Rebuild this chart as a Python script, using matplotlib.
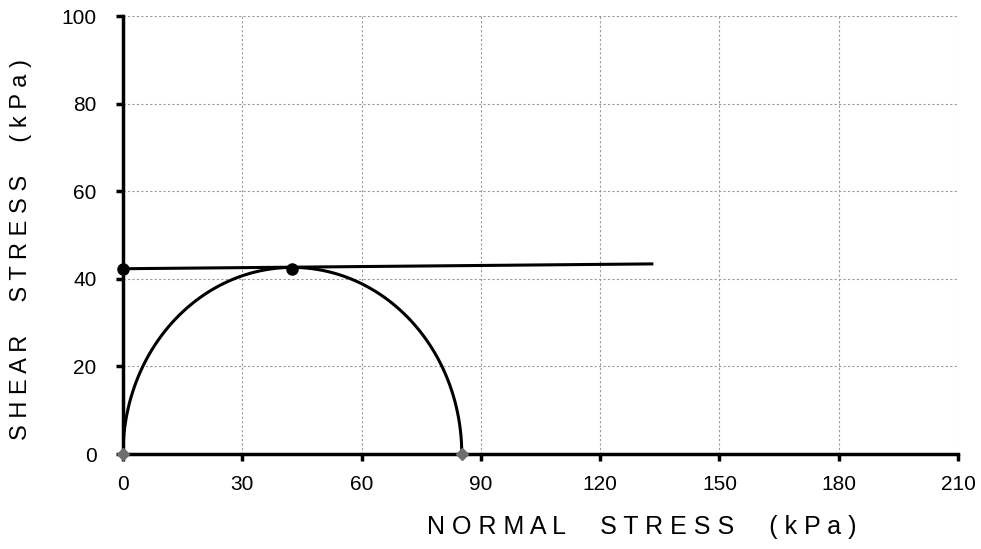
import numpy as np
import matplotlib
matplotlib.use('Agg')
import matplotlib.pyplot as plt

plt.rcParams['font.family'] = ['Liberation Sans', 'DejaVu Sans']

# Mohr circle data (kPa)
sigma_3 = 0.0
sigma_1 = 85.2
envelope_x = [0.0, 133.0]
envelope_y = [42.3, 43.4]
points_x = [0.0, 42.6]
points_y = [42.3, 42.3]
base_x = [0.0, 85.2]
base_y = [0.0, 0.0]
xticks = [0, 30, 60, 90, 120, 150, 180, 210]
yticks = [0, 20, 40, 60, 80, 100]

center = (sigma_1 + sigma_3) / 2
radius = (sigma_1 - sigma_3) / 2
theta = np.linspace(0, np.pi, 300)
circ_x = center + radius * np.cos(theta)
circ_y = radius * np.sin(theta)

W, H = 981, 549
fig = plt.figure(figsize=(W / 100, H / 100), dpi=100)
ax = fig.add_axes([123 / W, 1 - 454 / H, 835 / W, 438 / H])

ax.plot(circ_x, circ_y, color='black', lw=2.2, zorder=3)
ax.plot(envelope_x, envelope_y, color='black', lw=2.2, zorder=3)
ax.plot(points_x, points_y, 'o', color='black', ms=8, zorder=4, clip_on=False)
ax.plot(base_x, base_y, 'D', color='#6e6e6e', ms=6.5, zorder=5, clip_on=False)

ax.set_xlim(0, 210)
ax.set_ylim(0, 100)
ax.set_xticks(xticks)
ax.set_yticks(yticks)
ax.grid(True, color='#9a9a9a', ls=(0, (2, 2)), lw=0.8)

for s in ['top', 'right']:
    ax.spines[s].set_visible(False)
ax.spines['left'].set_linewidth(2.5)
ax.spines['bottom'].set_linewidth(2.5)
ax.tick_params(direction='out', length=5, width=2.5, labelsize=15)
ax.tick_params(axis='x', pad=10)
ax.tick_params(axis='y', pad=14)

def spaced(words):
    return '     '.join(' '.join(w) for w in words)

fig.text(427 / W, 1 - 527 / H, spaced(['NORMAL', 'STRESS', '(kPa)']),
         fontsize=18, ha='left', va='center')
fig.text(21 / W, 1 - 440 / H, spaced(['SHEAR', 'STRESS', '(kPa)']),
         fontsize=17, rotation=90, ha='center', va='bottom')

plt.savefig('out.png', dpi=100)
